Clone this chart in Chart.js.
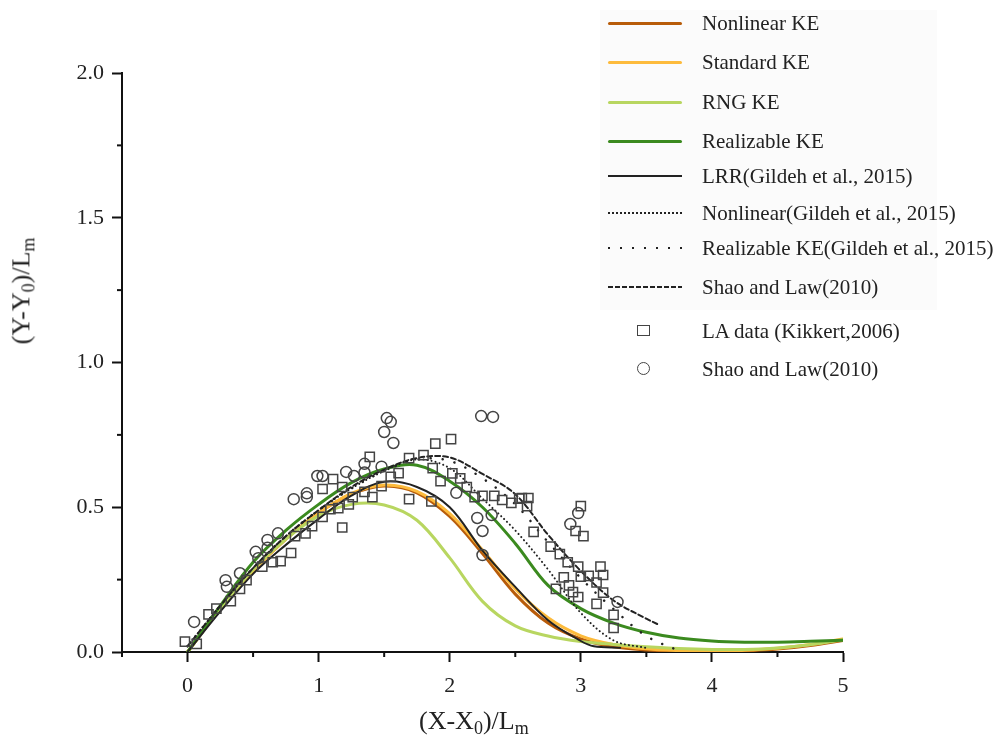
<!DOCTYPE html>
<html>
<head>
<meta charset="utf-8">
<script src="https://cdn.jsdelivr.net/npm/chart.js@4.4.1/dist/chart.umd.min.js"></script>
<style>
  body { margin: 0; background: #fff; }
  #wrap { position: relative; width: 1000px; height: 747px; font-family: "Liberation Serif", "Times New Roman", serif; color: #222; }
  #legendBox { position: absolute; left: 600px; top: 10px; width: 337px; height: 300px; background: #fbfbfb; }
  .row { position: absolute; left: 600px; height: 24px; width: 400px; }
  .row .sw { position: absolute; left: 8px; top: 11px; width: 74px; height: 3px; }
  .row .txt { position: absolute; left: 102px; top: 0; font-size: 21px; line-height: 24px; white-space: nowrap; }
  .row .sq { position: absolute; left: 37px; top: 6px; width: 11px; height: 9px; border: 1.5px solid #444; }
  .row .ci { position: absolute; left: 37px; top: 5px; width: 11px; height: 11px; border: 1.5px solid #444; border-radius: 50%; }
  .axtitle { position: absolute; font-size: 26px; white-space: nowrap; }
  .axtitle sub { font-size: 18px; vertical-align: -5px; line-height: 0; }
  canvas { position: absolute; left: 0; top: 0; }
</style>
</head>
<body>
<div id="wrap">
  <div id="legendBox"></div>
  <canvas id="chart" width="1000" height="747"></canvas>
  <div class="row" style="top:11px"><div class="sw" style="background:#b85c0a;border-radius:2px"></div><div class="txt">Nonlinear KE</div></div>
  <div class="row" style="top:50px"><div class="sw" style="background:#fdbb3c;border-radius:2px"></div><div class="txt">Standard KE</div></div>
  <div class="row" style="top:90px"><div class="sw" style="background:#b8d660;border-radius:2px"></div><div class="txt">RNG KE</div></div>
  <div class="row" style="top:129px"><div class="sw" style="background:#3b8a1f;border-radius:2px"></div><div class="txt">Realizable KE</div></div>
  <div class="row" style="top:164px"><div class="sw" style="background:#222;height:2px"></div><div class="txt">LRR(Gildeh et al., 2015)</div></div>
  <div class="row" style="top:201px"><div class="sw" style="height:2px;background:repeating-linear-gradient(to right,#222 0 2px,transparent 2px 4px)"></div><div class="txt">Nonlinear(Gildeh et al., 2015)</div></div>
  <div class="row" style="top:236px"><div class="sw" style="height:2px;background:repeating-linear-gradient(to right,#222 0 2px,transparent 2px 12px)"></div><div class="txt">Realizable KE(Gildeh et al., 2015)</div></div>
  <div class="row" style="top:275px"><div class="sw" style="height:2px;background:repeating-linear-gradient(to right,#222 0 5px,transparent 5px 7px)"></div><div class="txt">Shao and Law(2010)</div></div>
  <div class="row" style="top:319px"><div class="sq"></div><div class="txt">LA data (Kikkert,2006)</div></div>
  <div class="row" style="top:357px"><div class="ci"></div><div class="txt">Shao and Law(2010)</div></div>
  <div class="axtitle" style="left:419px;top:706px">(X-X<sub>0</sub>)/L<sub>m</sub></div>
  <div class="axtitle" style="left:-32px;top:276px;transform:rotate(-90deg);transform-origin:center">(Y-Y<sub>0</sub>)/L<sub>m</sub></div>
</div>
<script>
// model curves, sampled every 0.25
const xGrid = [0, 0.25, 0.5, 0.75, 1, 1.25, 1.5, 1.75, 2, 2.25, 2.5, 2.75, 3, 3.25, 3.5, 3.75, 4, 4.25, 4.5, 4.75, 5];
const nonlinearKE = [0, 0.15, 0.28, 0.39, 0.48, 0.545, 0.573, 0.55, 0.468, 0.34, 0.2, 0.1, 0.045, 0.018, 0.007, 0.003, 0.002, 0.004, 0.01, 0.022, 0.04];
const standardKE = [0, 0.15, 0.28, 0.39, 0.48, 0.548, 0.577, 0.555, 0.478, 0.352, 0.218, 0.118, 0.056, 0.026, 0.011, 0.005, 0.003, 0.006, 0.013, 0.026, 0.045];
const rngKE = [0, 0.15, 0.285, 0.39, 0.47, 0.51, 0.508, 0.455, 0.325, 0.175, 0.09, 0.055, 0.036, 0.026, 0.018, 0.012, 0.009, 0.009, 0.014, 0.025, 0.042];
const realizableKE = [0, 0.16, 0.31, 0.42, 0.51, 0.585, 0.632, 0.645, 0.59, 0.5, 0.375, 0.23, 0.15, 0.1, 0.068, 0.048, 0.038, 0.034, 0.034, 0.037, 0.041];

const lrrX = [0, 0.25, 0.5, 0.75, 1, 1.25, 1.5, 1.75, 2, 2.25, 2.5, 2.75, 3, 3.1, 3.3];
const lrrY = [0, 0.14, 0.27, 0.37, 0.46, 0.54, 0.588, 0.57, 0.5, 0.35, 0.225, 0.11, 0.038, 0.02, 0.015];

const nonlinGildehX = [0, 0.25, 0.5, 0.75, 1, 1.25, 1.5, 1.75, 2, 2.25, 2.5, 2.75, 3, 3.25, 3.5];
const nonlinGildehY = [0.02, 0.16, 0.29, 0.4, 0.49, 0.565, 0.625, 0.665, 0.635, 0.53, 0.42, 0.285, 0.135, 0.04, 0.014];

const realGildehX = [0, 0.25, 0.5, 0.75, 1, 1.25, 1.5, 1.75, 2, 2.25, 2.5, 2.75, 3, 3.25, 3.5, 3.75];
const realGildehY = [0.02, 0.16, 0.29, 0.4, 0.49, 0.565, 0.625, 0.665, 0.66, 0.6, 0.51, 0.38, 0.255, 0.148, 0.055, 0.004];

const shaoLineX = [0, 0.25, 0.5, 0.75, 1, 1.25, 1.5, 1.75, 2, 2.25, 2.5, 2.75, 3, 3.25, 3.5, 3.6];
const shaoLineY = [0.02, 0.16, 0.29, 0.4, 0.49, 0.57, 0.63, 0.67, 0.672, 0.615, 0.545, 0.405, 0.28, 0.178, 0.115, 0.093];

// measured points
const laX = [-0.02, 0.07, 0.16, 0.22, 0.33, 0.4, 0.45, 0.57, 0.65, 0.71, 0.79, 0.82, 0.9, 0.95, 1.03, 1.09, 1.15, 1.23, 1.18, 1.03, 1.11, 1.18, 1.26, 1.39, 1.35, 1.41, 1.48, 1.55, 1.61, 1.69, 1.69, 1.8, 1.87, 1.86, 1.89, 2.01, 1.93, 2.02, 2.08, 2.13, 2.19, 2.25, 2.34, 2.4, 2.47, 2.53, 2.55, 2.6, 2.59, 2.64, 3.0, 2.96, 3.02, 2.77, 2.84, 2.9, 2.98, 3.15, 3.17, 3.06, 3.0, 2.87, 3.12, 2.91, 2.81, 2.94, 2.98, 3.17, 3.12, 3.25, 3.25];
const laY = [0.036, 0.028, 0.13, 0.15, 0.176, 0.218, 0.248, 0.295, 0.31, 0.314, 0.342, 0.4, 0.41, 0.435, 0.467, 0.493, 0.497, 0.51, 0.43, 0.563, 0.597, 0.57, 0.535, 0.674, 0.553, 0.535, 0.573, 0.605, 0.618, 0.67, 0.528, 0.68, 0.635, 0.52, 0.72, 0.735, 0.59, 0.617, 0.6, 0.57, 0.535, 0.539, 0.539, 0.525, 0.515, 0.53, 0.532, 0.532, 0.504, 0.415, 0.504, 0.418, 0.4, 0.364, 0.338, 0.31, 0.295, 0.295, 0.266, 0.263, 0.26, 0.258, 0.24, 0.23, 0.218, 0.207, 0.19, 0.205, 0.166, 0.128, 0.083];

const shaoX = [0.05, 0.29, 0.3, 0.4, 0.52, 0.54, 0.61, 0.61, 0.69, 0.81, 0.91, 0.91, 0.99, 1.03, 1.21, 1.27, 1.52, 1.55, 1.5, 1.57, 1.35, 1.35, 1.48, 2.24, 2.33, 2.05, 2.21, 2.25, 2.32, 2.25, 2.98, 2.92, 3.28];
const shaoY = [0.104, 0.248, 0.225, 0.272, 0.346, 0.324, 0.36, 0.387, 0.41, 0.528, 0.548, 0.535, 0.608, 0.608, 0.622, 0.608, 0.808, 0.795, 0.76, 0.722, 0.65, 0.62, 0.64, 0.815, 0.812, 0.55, 0.463, 0.418, 0.473, 0.335, 0.48, 0.442, 0.173];

const xTicks = [-0.5, 0, 0.5, 1, 1.5, 2, 2.5, 3, 3.5, 4, 4.5, 5];
const yTicks = [0, 0.25, 0.5, 0.75, 1, 1.25, 1.5, 1.75, 2];

function pts(xs, ys) {
  return xs.map((x, i) => ({ x: x, y: ys[i] }));
}

function curve(label, xs, ys, color, width, dash, order) {
  return {
    label: label,
    data: pts(xs, ys),
    showLine: true,
    borderColor: color,
    backgroundColor: color,
    borderWidth: width,
    borderDash: dash || [],
    borderCapStyle: "round",
    pointRadius: 0,
    tension: 0.35,
    order: order,
  };
}

const isMajorX = (v) => Number.isInteger(v) && v >= 0;
const isMajorY = (v) => Math.abs(v * 2 - Math.round(v * 2)) < 1e-9;

// short ticks for the half steps
const minorTicks = {
  id: "minorTicks",
  afterDraw(chart) {
    const c = chart.ctx;
    const xs = chart.scales.x;
    const ys = chart.scales.y;
    c.save();
    c.strokeStyle = "#111";
    c.lineWidth = 2;
    xTicks.filter((v) => !isMajorX(v)).forEach((v) => {
      const px = xs.getPixelForValue(v);
      c.beginPath();
      c.moveTo(px, xs.top);
      c.lineTo(px, xs.top + 5);
      c.stroke();
    });
    yTicks.filter((v) => !isMajorY(v)).forEach((v) => {
      const py = ys.getPixelForValue(v);
      c.beginPath();
      c.moveTo(ys.right, py);
      c.lineTo(ys.right - 5, py);
      c.stroke();
    });
    c.restore();
  },
};

const tickFont = { family: "'Liberation Serif', 'Times New Roman', serif", size: 22 };

new Chart(document.getElementById("chart"), {
  type: "scatter",
  data: {
    datasets: [
      curve("Nonlinear KE", xGrid, nonlinearKE, "#b85c0a", 3, null, 8),
      curve("Standard KE", xGrid, standardKE, "#fdbb3c", 3, null, 7),
      curve("RNG KE", xGrid, rngKE, "#b8d660", 3, null, 6),
      curve("Realizable KE", xGrid, realizableKE, "#3b8a1f", 3, null, 5),
      curve("LRR(Gildeh et al., 2015)", lrrX, lrrY, "#222", 2, null, 4),
      curve("Nonlinear(Gildeh et al., 2015)", nonlinGildehX, nonlinGildehY, "#222", 2, [0.1, 4], 3),
      curve("Realizable KE(Gildeh et al., 2015)", realGildehX, realGildehY, "#222", 2.5, [0.1, 12], 2),
      curve("Shao and Law(2010)", shaoLineX, shaoLineY, "#222", 2, [5, 3], 1),
      {
        label: "LA data (Kikkert,2006)",
        data: pts(laX, laY),
        pointStyle: "rect",
        pointRadius: 6.5,
        pointBorderWidth: 1.5,
        borderColor: "#444",
        backgroundColor: "rgba(0,0,0,0)",
        order: 0,
      },
      {
        label: "Shao and Law(2010)",
        data: pts(shaoX, shaoY),
        pointStyle: "circle",
        pointRadius: 5.5,
        pointBorderWidth: 1.5,
        borderColor: "#444",
        backgroundColor: "rgba(0,0,0,0)",
        order: 0,
      },
    ],
  },
  options: {
    responsive: false,
    animation: false,
    devicePixelRatio: 1,
    layout: { padding: { top: 73, right: 157, left: 0, bottom: 0 } },
    plugins: { legend: { display: false }, tooltip: { enabled: false } },
    scales: {
      x: {
        type: "linear",
        min: -0.5,
        max: 5,
        afterBuildTicks: (s) => {
          s.ticks = xTicks.map((v) => ({ value: v }));
        },
        afterFit: (s) => {
          s.height = 95;
        },
        ticks: {
          autoSkip: false,
          maxRotation: 0,
          padding: 11,
          color: "#222",
          font: tickFont,
          callback: (v) => (isMajorX(v) ? String(v) : ""),
        },
        grid: {
          drawOnChartArea: false,
          tickLength: 10,
          tickWidth: 2,
          tickColor: (ctx) => (ctx.tick && isMajorX(ctx.tick.value) ? "#111" : "rgba(0,0,0,0)"),
        },
        border: { color: "#111", width: 2 },
      },
      y: {
        type: "linear",
        min: 0,
        max: 2,
        afterBuildTicks: (s) => {
          s.ticks = yTicks.map((v) => ({ value: v }));
        },
        afterFit: (s) => {
          s.width = 122;
        },
        ticks: {
          autoSkip: false,
          padding: 8,
          color: "#222",
          font: tickFont,
          callback: (v) => (isMajorY(v) ? v.toFixed(1) : ""),
        },
        grid: {
          drawOnChartArea: false,
          tickLength: 10,
          tickWidth: 2,
          tickColor: (ctx) => (ctx.tick && isMajorY(ctx.tick.value) ? "#111" : "rgba(0,0,0,0)"),
        },
        border: { color: "#111", width: 2 },
      },
    },
  },
  plugins: [minorTicks],
});
</script>
</body>
</html>
